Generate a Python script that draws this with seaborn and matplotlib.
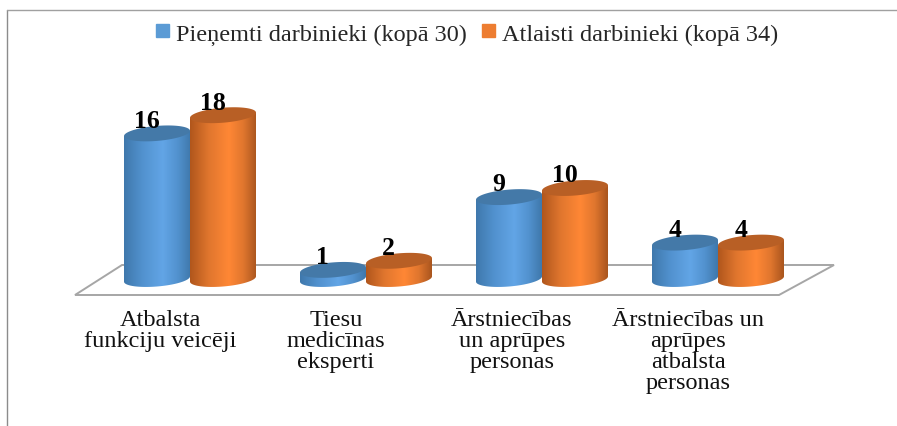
"""
Pieņemti / atlaisti darbinieki - cylinder style bar chart.
"""

import numpy as np
import pandas as pd
import matplotlib
matplotlib.use('Agg')
import matplotlib.pyplot as plt
import seaborn as sns
from matplotlib.colors import LinearSegmentedColormap
from matplotlib.lines import Line2D
from matplotlib.patches import Polygon
from matplotlib.transforms import ScaledTranslation, IdentityTransform

# -------------------------------
# 1. Data
# -------------------------------
categories = ['Atbalsta\nfunkciju veicēji', 'Tiesu\nmedicīnas\neksperti',
              'Ārstniecības\nun aprūpes\npersonas',
              'Ārstniecības un\naprūpes\natbalsta\npersonas']
hired_label = 'Pieņemti darbinieki (kopā 30)'
fired_label = 'Atlaisti darbinieki (kopā 34)'
hired = [16, 1, 9, 4]
fired = [18, 2, 10, 4]

df = pd.DataFrame({
    'category': categories * 2,
    'series': [hired_label] * 4 + [fired_label] * 4,
    'value': hired + fired,
})

W, H = 897, 427
BLUE = '#5B9BD5'
ORANGE = '#ED7D31'
# left edge, mid, highlight, right edge, top cap
shades = {
    BLUE: ['#3F78AC', '#5292CF', '#62A5E6', '#3F78AB', '#4479A8'],
    ORANGE: ['#B0561C', '#E0762E', '#FF8735', '#A9551E', '#B85F25'],
}

# -------------------------------
# 2. Base chart
# -------------------------------
sns.set_theme(style='white')
plt.rcParams['font.family'] = ['Liberation Serif', 'DejaVu Serif']

fig = plt.figure(figsize=(W / 100, H / 100), dpi=100)
# value 0 sits at y=280 px, 9.1 px per unit
y_low, y_high = -2.2, 20
ax = fig.add_axes([102 / W, (H - 280 - 2.2 * 9.1) / H, 704 / W, 22.2 * 9.1 / H])
ax.patch.set_alpha(0)

sns.barplot(data=df, x='category', y='value', hue='series', saturation=1,
            palette=[BLUE, ORANGE], width=0.75, gap=0, legend=False, ax=ax)
ax.set_xlim(-0.5, 3.5)
ax.set_ylim(y_low, y_high)
ax.set_xlabel('')
ax.set_ylabel('')
ax.set_yticks([])
sns.despine(ax=ax, left=True, bottom=True)
ax.tick_params(axis='x', length=0, pad=7, labelsize=17.5)

# labels sit left of the bars because of the perspective floor
shift = ScaledTranslation(-30 / 100, 0, fig.dpi_scale_trans)
for lab in ax.get_xticklabels():
    lab.set_transform(lab.get_transform() + shift)
    lab.set_linespacing(1.0)
    lab.set_color('#111111')

# -------------------------------
# 3. Floor and frame
# -------------------------------
def fpts(pts):
    return [(x / W, 1 - y / H) for x, y in pts]

fig.add_artist(Polygon(fpts([(75, 296), (122, 266), (834, 266), (779, 296)]),
                       closed=True, facecolor='white', edgecolor='#A6A6A6',
                       lw=1.4, transform=fig.transFigure, zorder=-1))
fig.add_artist(Line2D([7 / W, 7 / W], [0, 1 - 11 / H], color='#8C8C8C', lw=1,
                      transform=fig.transFigure))
fig.add_artist(Line2D([7 / W, 1], [1 - 11 / H, 1 - 11 / H], color='#A0A0A0', lw=1,
                      transform=fig.transFigure))

# -------------------------------
# 4. Turn the bars into cylinders
# -------------------------------
fig.canvas.draw()
bars = [b for b in ax.patches if b.get_width() > 0]
bars = sorted(bars, key=lambda b: b.get_x())
B_PX = 7.5      # half height of the caps
SHEAR = 0.08    # caps rise to the right
gradient = np.linspace(0, 1, 256).reshape(1, -1)

for i, bar in enumerate(bars):
    base = matplotlib.colors.to_hex(bar.get_facecolor())
    left, mid, light, right, cap = shades[base.upper()]
    cmap = LinearSegmentedColormap.from_list(
        'cyl', [(0, left), (0.28, mid), (0.58, light), (0.8, mid), (1, right)])
    bar.set_visible(False)

    x0, x1 = bar.get_x(), bar.get_x() + bar.get_width()
    top_val = bar.get_height()
    (px0, py0), (px1, py1) = ax.transData.transform([(x0, 0), (x1, top_val)])
    a = (px1 - px0) / 2
    cx = (px0 + px1) / 2

    t = np.linspace(np.pi, 2 * np.pi, 60)
    front = np.column_stack([cx + a * np.cos(t),
                             py0 + B_PX * np.sin(t) + SHEAR * a * np.cos(t)])
    body = np.vstack([[[px0, py1 - SHEAR * a]], front, [[px1, py1 + SHEAR * a]]])
    clip = Polygon(body, closed=True, transform=IdentityTransform())

    z = 3 + i
    img = ax.imshow(gradient, cmap=cmap, extent=(x0, x1, y_low, top_val + 2),
                    aspect='auto', zorder=z, interpolation='bilinear')
    img.set_clip_path(clip)

    # top cap
    t = np.linspace(0, 2 * np.pi, 80)
    cap_pts = np.column_stack([cx + a * np.cos(t),
                               py1 + B_PX * np.sin(t) + SHEAR * a * np.cos(t)])
    ax.add_patch(Polygon(cap_pts, closed=True, facecolor=cap, edgecolor='none',
                         transform=IdentityTransform(), zorder=z))

    ax.annotate(str(int(top_val)), xy=((x0 + x1) / 2, top_val),
                xytext=(-7.5, 9.5), textcoords='offset points', ha='center',
                va='center', fontsize=18.5, fontweight='bold', color='black',
                zorder=20, annotation_clip=False)

ax.set_xlim(-0.5, 3.5)
ax.set_ylim(y_low, y_high)

# -------------------------------
# 5. Legend
# -------------------------------
handles = [plt.Rectangle((0, 0), 1, 1, color=BLUE), plt.Rectangle((0, 0), 1, 1, color=ORANGE)]
ax.legend(handles, [hired_label, fired_label], ncol=2, frameon=False,
          loc='center', bbox_to_anchor=(467 / W, 1 - 35 / H),
          bbox_transform=fig.transFigure, fontsize=17.5, handlelength=0.55,
          handleheight=0.45, handletextpad=0.28, columnspacing=0.6)

plt.savefig('out.png', dpi=100)
plt.close()
